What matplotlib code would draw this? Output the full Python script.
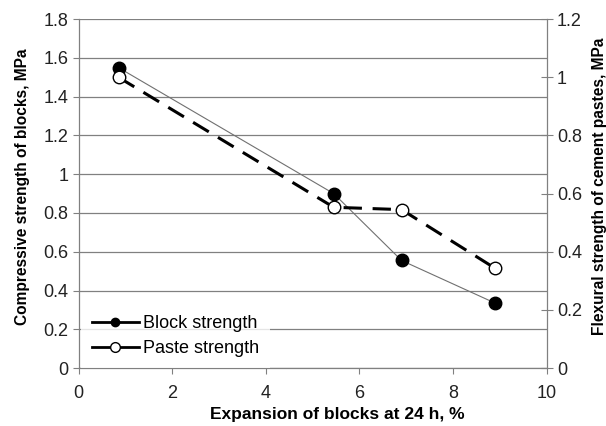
import matplotlib
matplotlib.use("Agg")
import matplotlib.pyplot as plt

plt.rcParams["font.family"] = ["Liberation Sans", "DejaVu Sans"]

expansion = [0.85, 5.45, 6.9, 8.9]
block_strength = [1.55, 0.90, 0.555, 0.335]
paste_strength = [1.0, 0.553, 0.545, 0.343]

left_ticks = [0, 0.2, 0.4, 0.6, 0.8, 1.0, 1.2, 1.4, 1.6, 1.8]
left_labels = ["0", "0.2", "0.4", "0.6", "0.8", "1", "1.2", "1.4", "1.6", "1.8"]
right_ticks = [0, 0.2, 0.4, 0.6, 0.8, 1.0, 1.2]
right_labels = ["0", "0.2", "0.4", "0.6", "0.8", "1", "1.2"]
x_ticks = [0, 2, 4, 6, 8, 10]

gray = "#808080"

fig = plt.figure(figsize=(6.06, 4.26), dpi=100)
ax = fig.add_axes([0.130, 0.136, 0.772, 0.819])
ax2 = ax.twinx()

ax.set_xlim(0, 10)
ax.set_ylim(0, 1.8)
ax2.set_ylim(0, 1.2)

ax.set_xticks(x_ticks)
ax.set_yticks(left_ticks)
ax.set_yticklabels(left_labels)
ax2.set_yticks(right_ticks)
ax2.set_yticklabels(right_labels)

ax.grid(axis="y", color=gray, linewidth=0.9)
ax.set_axisbelow(True)

for a in (ax, ax2):
    for s in a.spines.values():
        s.set_color(gray)
        s.set_linewidth(0.9)
    a.spines["top"].set_visible(False)
ax.spines["right"].set_visible(False)
ax2.spines["left"].set_visible(False)
ax2.spines["bottom"].set_visible(False)

ax.tick_params(axis="both", direction="out", length=4, color=gray,
               labelsize=13, labelcolor="#222222")
ax.tick_params(axis="x", pad=8)
ax2.tick_params(axis="y", direction="inout", length=8, color=gray,
                labelsize=13, labelcolor="#222222")

ax.plot(expansion, block_strength, color="#707070", linewidth=0.8,
        marker="o", markersize=9, markerfacecolor="black",
        markeredgecolor="black", zorder=3)
ax2.plot(expansion, paste_strength, color="black", linewidth=2.2,
         linestyle=(0, (6, 3.5)), marker="o", markersize=9,
         markerfacecolor="white", markeredgecolor="black",
         markeredgewidth=1.0, zorder=3)

# legend handles drawn solid and black like the original
h1 = plt.Line2D([], [], color="black", linewidth=2, marker="o", markersize=6,
                markerfacecolor="black", markeredgecolor="black")
h2 = plt.Line2D([], [], color="black", linewidth=2, marker="o", markersize=7,
                markerfacecolor="white", markeredgecolor="black")
leg = ax2.legend([h1, h2], ["Block strength", "Paste strength"],
                 loc="lower left", bbox_to_anchor=(0.005, 0.0), frameon=True,
                 fontsize=13, handlelength=2.6, borderaxespad=0.3,
                 labelspacing=0.45, handletextpad=0.25, borderpad=0.3)
leg.get_frame().set_facecolor("white")
leg.get_frame().set_edgecolor("none")
leg.get_frame().set_boxstyle("square", pad=0.3)

ax.set_xlabel("Expansion of blocks at 24 h, %", fontsize=12.5,
              fontweight="bold")
ax.xaxis.set_label_coords(0.553, -0.112)
ax.set_ylabel("Compressive strength of blocks, MPa", fontsize=11.2,
              fontweight="bold")
ax.yaxis.set_label_coords(-0.104, 0.52)
ax2.set_ylabel("Flexural strength of cement pastes, MPa", fontsize=11.2,
               fontweight="bold", rotation=90)
ax2.yaxis.set_label_coords(1.097, 0.52)

fig.savefig("out.png", dpi=100)
